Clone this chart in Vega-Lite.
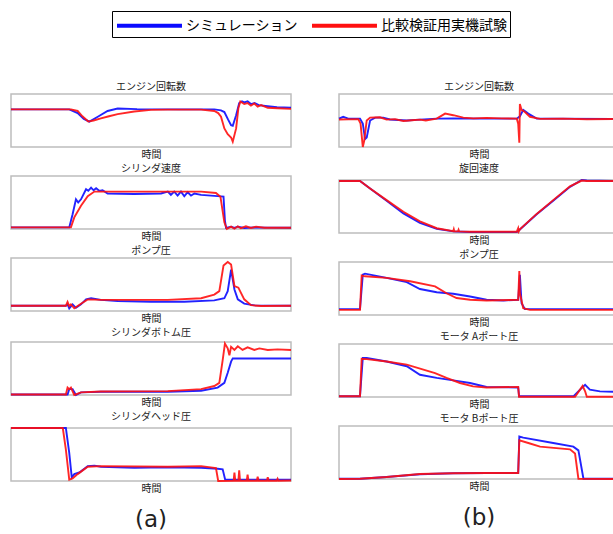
{
"$schema": "https://vega.github.io/schema/vega-lite/v6.json",
"padding": {"left": 6, "top": 10, "right": 0, "bottom": 0},
"config": {
  "font": "Noto Sans CJK JP",
  "view": {"stroke": "#bdbdbd", "strokeWidth": 1.5},
  "title": {"fontSize": 10, "fontWeight": "normal", "color": "#222222", "offset": 2, "font": "Noto Sans CJK JP"},
  "axisX": {"labels": false, "ticks": false, "domain": false, "grid": false, "titleFontSize": 10, "titleFontWeight": "normal", "titleColor": "#222222", "titlePadding": 2, "titleFont": "Noto Sans CJK JP"}
},
"datasets": {
"L1": [
{"s":"シミュレーション","t":0,"v":71},{"s":"シミュレーション","t":20.8,"v":71},{"s":"シミュレーション","t":23.8,"v":64},{"s":"シミュレーション","t":26,"v":53},{"s":"シミュレーション","t":28,"v":48},{"s":"シミュレーション","t":31,"v":57},{"s":"シミュレーション","t":34.5,"v":68},{"s":"シミュレーション","t":38.1,"v":72.6},{"s":"シミュレーション","t":45,"v":71.5},{"s":"シミュレーション","t":60,"v":71},{"s":"シミュレーション","t":72.6,"v":71},{"s":"シミュレーション","t":75,"v":69},{"s":"シミュレーション","t":76.2,"v":66},{"s":"シミュレーション","t":77.5,"v":52},{"s":"シミュレーション","t":78.6,"v":41},{"s":"シミュレーション","t":79.2,"v":40},{"s":"シミュレーション","t":80.4,"v":60},{"s":"シミュレーション","t":81.5,"v":83},{"s":"シミュレーション","t":82.5,"v":86},{"s":"シミュレーション","t":83.3,"v":84},{"s":"シミュレーション","t":84.5,"v":86},{"s":"シミュレーション","t":85.7,"v":81},{"s":"シミュレーション","t":87,"v":83},{"s":"シミュレーション","t":88.5,"v":79},{"s":"シミュレーション","t":91.7,"v":77},{"s":"シミュレーション","t":95,"v":75},{"s":"シミュレーション","t":100,"v":74},
{"s":"比較検証用実機試験","t":0,"v":71},{"s":"比較検証用実機試験","t":21.4,"v":71},{"s":"比較検証用実機試験","t":23.8,"v":68},{"s":"比較検証用実機試験","t":25.5,"v":58},{"s":"比較検証用実機試験","t":27.6,"v":48},{"s":"比較検証用実機試験","t":29.5,"v":50},{"s":"比較検証用実機試験","t":32.1,"v":54},{"s":"比較検証用実機試験","t":35,"v":58},{"s":"比較検証用実機試験","t":38.1,"v":62},{"s":"比較検証用実機試験","t":44,"v":67},{"s":"比較検証用実機試験","t":50,"v":70},{"s":"比較検証用実機試験","t":56,"v":70.5},{"s":"比較検証用実機試験","t":67.9,"v":70.5},{"s":"比較検証用実機試験","t":72.6,"v":68},{"s":"比較検証用実機試験","t":74,"v":64},{"s":"比較検証用実機試験","t":75,"v":57},{"s":"比較検証用実機試験","t":76.2,"v":35},{"s":"比較検証用実機試験","t":77.4,"v":24},{"s":"比較検証用実機試験","t":78.6,"v":18},{"s":"比較検証用実機試験","t":79.2,"v":10},{"s":"比較検証用実機試験","t":80.4,"v":35},{"s":"比較検証用実機試験","t":81.2,"v":73},{"s":"比較検証用実機試験","t":81.9,"v":86},{"s":"比較検証用実機試験","t":83.3,"v":81},{"s":"比較検証用実機試験","t":84.5,"v":83},{"s":"比較検証用実機試験","t":85.7,"v":78},{"s":"比較検証用実機試験","t":86.9,"v":82},{"s":"比較検証用実機試験","t":88.1,"v":76},{"s":"比較検証用実機試験","t":89.3,"v":79},{"s":"比較検証用実機試験","t":91.7,"v":74},{"s":"比較検証用実機試験","t":95.2,"v":73},{"s":"比較検証用実機試験","t":100,"v":72}
],
"L2": [
{"s":"シミュレーション","t":0,"v":3},{"s":"シミュレーション","t":20.8,"v":3},{"s":"シミュレーション","t":22,"v":28},{"s":"シミュレーション","t":23.2,"v":56},{"s":"シミュレーション","t":24,"v":50},{"s":"シミュレーション","t":25,"v":56},{"s":"シミュレーション","t":26.8,"v":75},{"s":"シミュレーション","t":27.6,"v":72},{"s":"シミュレーション","t":28.6,"v":78},{"s":"シミュレーション","t":29.5,"v":73},{"s":"シミュレーション","t":30.4,"v":77},{"s":"シミュレーション","t":31.5,"v":72},{"s":"シミュレーション","t":32.7,"v":73},{"s":"シミュレーション","t":34.5,"v":67},{"s":"シミュレーション","t":44,"v":66},{"s":"シミュレーション","t":53.6,"v":67},{"s":"シミュレーション","t":56,"v":70.6},{"s":"シミュレーション","t":57.1,"v":64.4},{"s":"シミュレーション","t":58.3,"v":70.6},{"s":"シミュレーション","t":59.5,"v":63.1},{"s":"シミュレーション","t":60.7,"v":70.6},{"s":"シミュレーション","t":61.9,"v":61.9},{"s":"シミュレーション","t":63.1,"v":69.4},{"s":"シミュレーション","t":64.3,"v":63.1},{"s":"シミュレーション","t":65.5,"v":66.9},{"s":"シミュレーション","t":67.9,"v":64.4},{"s":"シミュレーション","t":73.8,"v":62},{"s":"シミュレーション","t":75.9,"v":61},{"s":"シミュレーション","t":76.4,"v":16},{"s":"シミュレーション","t":76.8,"v":2},{"s":"シミュレーション","t":78.6,"v":4.4},{"s":"シミュレーション","t":79.8,"v":2},{"s":"シミュレーション","t":81,"v":4.4},{"s":"シミュレーション","t":83.3,"v":2},{"s":"シミュレーション","t":86.9,"v":3},{"s":"シミュレーション","t":91.7,"v":2.5},{"s":"シミュレーション","t":100,"v":2.5},
{"s":"比較検証用実機試験","t":0,"v":3},{"s":"比較検証用実機試験","t":21.4,"v":3},{"s":"比較検証用実機試験","t":22.6,"v":22},{"s":"比較検証用実機試験","t":25,"v":44},{"s":"比較検証用実機試験","t":27.4,"v":62},{"s":"比較検証用実機試験","t":29.8,"v":70.6},{"s":"比較検証用実機試験","t":32.1,"v":70.6},{"s":"比較検証用実機試験","t":44,"v":70.6},{"s":"比較検証用実機試験","t":56,"v":70.6},{"s":"比較検証用実機試験","t":67.9,"v":70.6},{"s":"比較検証用実機試験","t":73.2,"v":68},{"s":"比較検証用実機試験","t":74.8,"v":61},{"s":"比較検証用実機試験","t":76.2,"v":12.5},{"s":"比較検証用実機試験","t":77.1,"v":0},{"s":"比較検証用実機試験","t":78.6,"v":4.4},{"s":"比較検証用実機試験","t":79.8,"v":0.5},{"s":"比較検証用実機試験","t":81,"v":5},{"s":"比較検証用実機試験","t":82.1,"v":1.5},{"s":"比較検証用実機試験","t":83.9,"v":5},{"s":"比較検証用実機試験","t":85.7,"v":2},{"s":"比較検証用実機試験","t":87.5,"v":4.4},{"s":"比較検証用実機試験","t":90.5,"v":2.5},{"s":"比較検証用実機試験","t":100,"v":2.5}
],
"L3": [
{"s":"シミュレーション","t":0,"v":10},{"s":"シミュレーション","t":19.6,"v":10},{"s":"シミュレーション","t":20.2,"v":12.5},{"s":"シミュレーション","t":20.8,"v":5},{"s":"シミュレーション","t":22,"v":12.5},{"s":"シミュレーション","t":23.2,"v":6},{"s":"シミュレーション","t":25,"v":12.5},{"s":"シミュレーション","t":26.8,"v":22},{"s":"シミュレーション","t":28.6,"v":24},{"s":"シミュレーション","t":32.1,"v":21},{"s":"シミュレーション","t":38.1,"v":19},{"s":"シミュレーション","t":50,"v":17.5},{"s":"シミュレーション","t":61.9,"v":17.5},{"s":"シミュレーション","t":72.6,"v":20},{"s":"シミュレーション","t":76.2,"v":24},{"s":"シミュレーション","t":77.4,"v":37.5},{"s":"シミュレーション","t":78.6,"v":78},{"s":"シミュレーション","t":79.8,"v":40.6},{"s":"シミュレーション","t":81,"v":22},{"s":"シミュレーション","t":83.3,"v":14},{"s":"シミュレーション","t":86.9,"v":10.6},{"s":"シミュレーション","t":100,"v":10},
{"s":"比較検証用実機試験","t":0,"v":10},{"s":"比較検証用実機試験","t":19.6,"v":10},{"s":"比較検証用実機試験","t":20.2,"v":17},{"s":"比較検証用実機試験","t":20.8,"v":9.4},{"s":"比較検証用実機試験","t":21.4,"v":12.5},{"s":"比較検証用実機試験","t":22.6,"v":5},{"s":"比較検証用実機試験","t":25,"v":13.7},{"s":"比較検証用実機試験","t":27.4,"v":22},{"s":"比較検証用実機試験","t":32.1,"v":21},{"s":"比較検証用実機試験","t":44,"v":21},{"s":"比較検証用実機試験","t":56,"v":21},{"s":"比較検証用実機試験","t":67.9,"v":24},{"s":"比較検証用実機試験","t":72.6,"v":31},{"s":"比較検証用実機試験","t":74.4,"v":37.5},{"s":"比較検証用実機試験","t":75.9,"v":86},{"s":"比較検証用実機試験","t":77.4,"v":92.5},{"s":"比較検証用実機試験","t":78.6,"v":87.5},{"s":"比較検証用実機試験","t":79.8,"v":47},{"s":"比較検証用実機試験","t":81.2,"v":44},{"s":"比較検証用実機試験","t":83.3,"v":22},{"s":"比較検証用実機試験","t":85.7,"v":11},{"s":"比較検証用実機試験","t":89.3,"v":9.4},{"s":"比較検証用実機試験","t":100,"v":10}
],
"L4": [
{"s":"シミュレーション","t":0,"v":1},{"s":"シミュレーション","t":20.2,"v":1},{"s":"シミュレーション","t":20.8,"v":11},{"s":"シミュレーション","t":22,"v":11},{"s":"シミュレーション","t":23.2,"v":0},{"s":"シミュレーション","t":25,"v":5},{"s":"シミュレーション","t":32.1,"v":6},{"s":"シミュレーション","t":56,"v":6},{"s":"シミュレーション","t":67.9,"v":8},{"s":"シミュレーション","t":73.8,"v":14},{"s":"シミュレーション","t":76.2,"v":23},{"s":"シミュレーション","t":77.4,"v":42},{"s":"シミュレーション","t":78.6,"v":63},{"s":"シミュレーション","t":79.2,"v":69},{"s":"シミュレーション","t":100,"v":69},
{"s":"比較検証用実機試験","t":0,"v":1},{"s":"比較検証用実機試験","t":19.6,"v":1},{"s":"比較検証用実機試験","t":20.2,"v":14},{"s":"比較検証用実機試験","t":20.8,"v":11},{"s":"比較検証用実機試験","t":21.4,"v":14},{"s":"比較検証用実機試験","t":22.6,"v":0},{"s":"比較検証用実機試験","t":25,"v":5},{"s":"比較検証用実機試験","t":32.1,"v":6.7},{"s":"比較検証用実機試験","t":56,"v":7.4},{"s":"比較検証用実機試験","t":67.9,"v":11},{"s":"比較検証用実機試験","t":72.6,"v":17},{"s":"比較検証用実機試験","t":74.4,"v":23},{"s":"比較検証用実機試験","t":75.6,"v":66},{"s":"比較検証用実機試験","t":76.4,"v":97},{"s":"比較検証用実機試験","t":77.4,"v":88},{"s":"比較検証用実機試験","t":78,"v":75},{"s":"比較検証用実機試験","t":78.6,"v":91},{"s":"比較検証用実機試験","t":79.8,"v":85},{"s":"比較検証用実機試験","t":81,"v":92},{"s":"比較検証用実機試験","t":82.7,"v":85},{"s":"比較検証用実機試験","t":84.5,"v":90},{"s":"比較検証用実機試験","t":86.9,"v":85},{"s":"比較検証用実機試験","t":88.7,"v":88},{"s":"比較検証用実機試験","t":91.7,"v":85},{"s":"比較検証用実機試験","t":95.2,"v":86},{"s":"比較検証用実機試験","t":100,"v":85}
],
"L5": [
{"s":"シミュレーション","t":0,"v":100},{"s":"シミュレーション","t":19.6,"v":100},{"s":"シミュレーション","t":20.8,"v":53},{"s":"シミュレーション","t":21.7,"v":7},{"s":"シミュレーション","t":22.6,"v":13},{"s":"シミュレーション","t":24.4,"v":16},{"s":"シミュレーション","t":27.4,"v":28},{"s":"シミュレーション","t":29.8,"v":29},{"s":"シミュレーション","t":32.1,"v":27},{"s":"シミュレーション","t":44,"v":25},{"s":"シミュレーション","t":56,"v":26},{"s":"シミュレーション","t":67.9,"v":25},{"s":"シミュレーション","t":73.8,"v":23},{"s":"シミュレーション","t":75.6,"v":22},{"s":"シミュレーション","t":76.5,"v":2.5},{"s":"シミュレーション","t":100,"v":2.5},
{"s":"比較検証用実機試験","t":0,"v":100},{"s":"比較検証用実機試験","t":18.5,"v":100},{"s":"比較検証用実機試験","t":19.6,"v":59},{"s":"比較検証用実機試験","t":20.8,"v":2.5},{"s":"比較検証用実機試験","t":22,"v":5},{"s":"比較検証用実機試験","t":23.8,"v":13},{"s":"比較検証用実機試験","t":27.4,"v":27},{"s":"比較検証用実機試験","t":32.1,"v":28},{"s":"比較検証用実機試験","t":56,"v":27},{"s":"比較検証用実機試験","t":67.9,"v":28},{"s":"比較検証用実機試験","t":73.2,"v":24.5},{"s":"比較検証用実機試験","t":74,"v":0},{"s":"比較検証用実機試験","t":79.5,"v":0.5},{"s":"比較検証用実機試験","t":79.8,"v":16},{"s":"比較検証用実機試験","t":80.1,"v":0.5},{"s":"比較検証用実機試験","t":81.2,"v":0.5},{"s":"比較検証用実機試験","t":81.5,"v":20},{"s":"比較検証用実機試験","t":81.8,"v":0.5},{"s":"比較検証用実機試験","t":84.2,"v":0.5},{"s":"比較検証用実機試験","t":84.5,"v":12},{"s":"比較検証用実機試験","t":84.8,"v":0.5},{"s":"比較検証用実機試験","t":87.8,"v":0.5},{"s":"比較検証用実機試験","t":88.1,"v":8},{"s":"比較検証用実機試験","t":88.4,"v":0.5},{"s":"比較検証用実機試験","t":91.4,"v":0.5},{"s":"比較検証用実機試験","t":91.7,"v":7},{"s":"比較検証用実機試験","t":92,"v":0.5},{"s":"比較検証用実機試験","t":94.9,"v":0.5},{"s":"比較検証用実機試験","t":95.2,"v":4},{"s":"比較検証用実機試験","t":95.5,"v":0.5},{"s":"比較検証用実機試験","t":100,"v":1}
],
"R1": [
{"s":"シミュレーション","t":0,"v":53.5},{"s":"シミュレーション","t":1.5,"v":57},{"s":"シミュレーション","t":3.3,"v":53.5},{"s":"シミュレーション","t":7.5,"v":53.5},{"s":"シミュレーション","t":8.5,"v":44},{"s":"シミュレーション","t":9.3,"v":15},{"s":"シミュレーション","t":9.9,"v":18},{"s":"シミュレーション","t":11.1,"v":50},{"s":"シミュレーション","t":12.9,"v":55.5},{"s":"シミュレーション","t":15.8,"v":55.5},{"s":"シミュレーション","t":18.2,"v":52},{"s":"シミュレーション","t":24.2,"v":50},{"s":"シミュレーション","t":28.9,"v":51.6},{"s":"シミュレーション","t":34.9,"v":53.5},{"s":"シミュレーション","t":40.8,"v":54},{"s":"シミュレーション","t":52.7,"v":53.5},{"s":"シミュレーション","t":63.5,"v":53.5},{"s":"シミュレーション","t":64.6,"v":58},{"s":"シミュレーション","t":65.8,"v":70},{"s":"シミュレーション","t":67.6,"v":63},{"s":"シミュレーション","t":70.6,"v":53.5},{"s":"シミュレーション","t":76.5,"v":53.5},{"s":"シミュレーション","t":100,"v":53},
{"s":"比較検証用実機試験","t":0,"v":52},{"s":"比較検証用実機試験","t":6.9,"v":52.5},{"s":"比較検証用実機試験","t":7.7,"v":44},{"s":"比較検証用実機試験","t":8.5,"v":0},{"s":"比較検証用実機試験","t":9,"v":11.6},{"s":"比較検証用実機試験","t":9.9,"v":50},{"s":"比較検証用実機試験","t":11.1,"v":55.5},{"s":"比較検証用実機試験","t":14.6,"v":56},{"s":"比較検証用実機試験","t":17,"v":51.6},{"s":"比較検証用実機試験","t":20,"v":52.5},{"s":"比較検証用実機試験","t":23,"v":49},{"s":"比較検証用実機試験","t":26,"v":50.5},{"s":"比較検証用実機試験","t":28.9,"v":51.6},{"s":"比較検証用実機試験","t":31,"v":50},{"s":"比較検証用実機試験","t":34.9,"v":53.5},{"s":"比較検証用実機試験","t":37.9,"v":63},{"s":"比較検証用実機試験","t":40.8,"v":60},{"s":"比較検証用実機試験","t":44.4,"v":55.5},{"s":"比較検証用実機試験","t":48,"v":54},{"s":"比較検証用実機試験","t":52.7,"v":55},{"s":"比較検証用実機試験","t":58,"v":54},{"s":"比較検証用実機試験","t":63.5,"v":53.5},{"s":"比較検証用実機試験","t":64,"v":44},{"s":"比較検証用実機試験","t":64.4,"v":8},{"s":"比較検証用実機試験","t":64.6,"v":81},{"s":"比較検証用実機試験","t":65.2,"v":70},{"s":"比較検証用実機試験","t":66.4,"v":66},{"s":"比較検証用実機試験","t":68.2,"v":57},{"s":"比較検証用実機試験","t":71.8,"v":53},{"s":"比較検証用実機試験","t":80,"v":53.5},{"s":"比較検証用実機試験","t":88.5,"v":52.5},{"s":"比較検証用実機試験","t":100,"v":53}
],
"R2": [
{"s":"シミュレーション","t":0,"v":98},{"s":"シミュレーション","t":7.5,"v":98},{"s":"シミュレーション","t":11.1,"v":84},{"s":"シミュレーション","t":17,"v":61},{"s":"シミュレーション","t":23,"v":37},{"s":"シミュレーション","t":28.9,"v":19},{"s":"シミュレーション","t":34.9,"v":8},{"s":"シミュレーション","t":40.8,"v":3},{"s":"シミュレーション","t":46.8,"v":2},{"s":"シミュレーション","t":63.5,"v":2},{"s":"シミュレーション","t":64.6,"v":6.5},{"s":"シミュレーション","t":70.6,"v":35.5},{"s":"シミュレーション","t":76.5,"v":61},{"s":"シミュレーション","t":82.5,"v":87},{"s":"シミュレーション","t":86.7,"v":100},{"s":"シミュレーション","t":88.5,"v":99},{"s":"シミュレーション","t":100,"v":98},
{"s":"比較検証用実機試験","t":0,"v":98},{"s":"比較検証用実機試験","t":7.5,"v":98},{"s":"比較検証用実機試験","t":11.1,"v":84},{"s":"比較検証用実機試験","t":17,"v":62},{"s":"比較検証用実機試験","t":23,"v":40},{"s":"比較検証用実機試験","t":28.9,"v":22},{"s":"比較検証用実機試験","t":34.9,"v":9},{"s":"比較検証用実機試験","t":40.8,"v":3.5},{"s":"比較検証用実機試験","t":41,"v":7},{"s":"比較検証用実機試験","t":41.2,"v":3},{"s":"比較検証用実機試験","t":42.5,"v":3},{"s":"比較検証用実機試験","t":42.7,"v":6},{"s":"比較検証用実機試験","t":42.9,"v":3},{"s":"比較検証用実機試験","t":46.8,"v":2.5},{"s":"比較検証用実機試験","t":63.5,"v":2.5},{"s":"比較検証用実機試験","t":64,"v":9},{"s":"比較検証用実機試験","t":64.2,"v":3},{"s":"比較検証用実機試験","t":64.6,"v":7},{"s":"比較検証用実機試験","t":70.6,"v":36},{"s":"比較検証用実機試験","t":76.5,"v":62},{"s":"比較検証用実機試験","t":82.5,"v":88},{"s":"比較検証用実機試験","t":86.7,"v":99},{"s":"比較検証用実機試験","t":88.5,"v":98},{"s":"比較検証用実機試験","t":100,"v":98}
],
"R3": [
{"s":"シミュレーション","t":0,"v":11},{"s":"シミュレーション","t":7.5,"v":11},{"s":"シミュレーション","t":8.5,"v":76},{"s":"シミュレーション","t":9.3,"v":78},{"s":"シミュレーション","t":17,"v":70},{"s":"シミュレーション","t":24.2,"v":62},{"s":"シミュレーション","t":28.9,"v":49},{"s":"シミュレーション","t":34.9,"v":43},{"s":"シミュレーション","t":40.8,"v":40},{"s":"シミュレーション","t":46.8,"v":35},{"s":"シミュレーション","t":52.7,"v":28.7},{"s":"シミュレーション","t":58.7,"v":27.4},{"s":"シミュレーション","t":64,"v":28.7},{"s":"シミュレーション","t":64.6,"v":76},{"s":"シミュレーション","t":65.2,"v":22},{"s":"シミュレーション","t":66.4,"v":11},{"s":"シミュレーション","t":100,"v":11},
{"s":"比較検証用実機試験","t":0,"v":9.6},{"s":"比較検証用実機試験","t":7.5,"v":9.6},{"s":"比較検証用実機試験","t":8.1,"v":74.5},{"s":"比較検証用実機試験","t":9.3,"v":73},{"s":"比較検証用実機試験","t":17,"v":70},{"s":"比較検証用実機試験","t":25.4,"v":63.7},{"s":"比較検証用実機試験","t":34.3,"v":54},{"s":"比較検証用実機試験","t":38.4,"v":41},{"s":"比較検証用実機試験","t":42,"v":32},{"s":"比較検証用実機試験","t":46.8,"v":28.7},{"s":"比較検証用実機試験","t":52.7,"v":27.4},{"s":"比較検証用実機試験","t":64,"v":28.7},{"s":"比較検証用実機試験","t":64.4,"v":83},{"s":"比較検証用実機試験","t":64.6,"v":41},{"s":"比較検証用実機試験","t":65.8,"v":12.7},{"s":"比較検証用実機試験","t":68.2,"v":9.6},{"s":"比較検証用実機試験","t":100,"v":9.6}
],
"R4": [
{"s":"シミュレーション","t":0,"v":1.3},{"s":"シミュレーション","t":7.5,"v":1.3},{"s":"シミュレーション","t":8.5,"v":73.6},{"s":"シミュレーション","t":9.9,"v":73.6},{"s":"シミュレーション","t":17,"v":67},{"s":"シミュレーション","t":24.2,"v":58},{"s":"シミュレーション","t":28.9,"v":42},{"s":"シミュレーション","t":34.9,"v":36},{"s":"シミュレーション","t":40.8,"v":31.4},{"s":"シミュレーション","t":46.8,"v":26.4},{"s":"シミュレーション","t":52.7,"v":19},{"s":"シミュレーション","t":64,"v":18},{"s":"シミュレーション","t":64.3,"v":1.3},{"s":"シミュレーション","t":83.7,"v":1.3},{"s":"シミュレーション","t":86.1,"v":14},{"s":"シミュレーション","t":87.9,"v":23},{"s":"シミュレーション","t":89.6,"v":14},{"s":"シミュレーション","t":93.2,"v":10.7},{"s":"シミュレーション","t":100,"v":9.4},
{"s":"比較検証用実機試験","t":0,"v":1.3},{"s":"比較検証用実機試験","t":7.5,"v":1.3},{"s":"比較検証用実機試験","t":8.1,"v":72},{"s":"比較検証用実機試験","t":9.9,"v":71.5},{"s":"比較検証用実機試験","t":17,"v":67},{"s":"比較検証用実機試験","t":24.2,"v":61},{"s":"比較検証用実機試験","t":34.3,"v":45},{"s":"比較検証用実機試験","t":38.4,"v":36},{"s":"比較検証用実機試験","t":43.2,"v":26.4},{"s":"比較検証用実機試験","t":47.9,"v":20},{"s":"比較検証用実機試験","t":52.7,"v":18},{"s":"比較検証用実機試験","t":64,"v":19},{"s":"比較検証用実機試験","t":64.3,"v":0.6},{"s":"比較検証用実機試験","t":84.3,"v":0.6},{"s":"比較検証用実機試験","t":86.1,"v":14},{"s":"比較検証用実機試験","t":87,"v":21},{"s":"比較検証用実機試験","t":87.9,"v":10.7},{"s":"比較検証用実機試験","t":88.5,"v":0.6},{"s":"比較検証用実機試験","t":100,"v":0.6}
],
"R5": [
{"s":"シミュレーション","t":0,"v":0.6},{"s":"シミュレーション","t":7.5,"v":0.6},{"s":"シミュレーション","t":17,"v":3.8},{"s":"シミュレーション","t":28.9,"v":8.9},{"s":"シミュレーション","t":40.8,"v":10.8},{"s":"シミュレーション","t":52.7,"v":11.4},{"s":"シミュレーション","t":64,"v":11.4},{"s":"シミュレーション","t":64.4,"v":80},{"s":"シミュレーション","t":65.8,"v":78},{"s":"シミュレーション","t":76.5,"v":68},{"s":"シミュレーション","t":83.7,"v":61},{"s":"シミュレーション","t":85.5,"v":54},{"s":"シミュレーション","t":87.3,"v":0.6},{"s":"シミュレーション","t":100,"v":0.6},
{"s":"比較検証用実機試験","t":0,"v":0},{"s":"比較検証用実機試験","t":7.5,"v":0.6},{"s":"比較検証用実機試験","t":17,"v":3.8},{"s":"比較検証用実機試験","t":28.9,"v":9.5},{"s":"比較検証用実機試験","t":40.8,"v":10.8},{"s":"比較検証用実機試験","t":52.7,"v":11.4},{"s":"比較検証用実機試験","t":64,"v":11.4},{"s":"比較検証用実機試験","t":64.4,"v":73},{"s":"比較検証用実機試験","t":68.2,"v":67},{"s":"比較検証用実機試験","t":71.8,"v":61},{"s":"比較検証用実機試験","t":82.5,"v":56},{"s":"比較検証用実機試験","t":84.3,"v":48},{"s":"比較検証用実機試験","t":85.5,"v":0.6},{"s":"比較検証用実機試験","t":100,"v":0}
]
},
"resolve": {"scale": {"color": "shared"}, "legend": {"color": "shared"}},
"spacing": 38,
"hconcat": [
{"spacing": 3, "resolve": {"scale": {"color": "shared"}, "legend": {"color": "shared"}},
 "title": {"text": "(a)", "orient": "bottom", "anchor": "middle", "fontSize": 23, "font": "DejaVu Sans", "color": "#222222", "offset": 15},
 "vconcat": [
  {"title": "エンジン回転数", "width": 280, "height": 53, "data": {"name": "L1"}, "mark": {"type": "line", "strokeWidth": 1.9, "opacity": 0.9},
   "encoding": {"x": {"field": "t", "type": "quantitative", "scale": {"domain": [0, 100], "nice": false, "zero": false}, "axis": {"title": "時間"}},
    "y": {"field": "v", "type": "quantitative", "scale": {"domain": [0, 100], "nice": false}, "axis": null},
    "color": {"field": "s", "type": "nominal", "scale": {"domain": ["シミュレーション", "比較検証用実機試験"], "range": ["#0a0aff", "#ff1010"]},
     "legend": {"title": null, "orient": "none", "legendX": 101, "legendY": -83, "direction": "horizontal", "strokeColor": "#000000", "padding": 3, "symbolType": "M-1,0H5.84", "symbolSize": 361, "symbolStrokeWidth": 4, "symbolOpacity": 1, "labelFontSize": 14, "labelColor": "#000000", "labelOffset": 48, "columnPadding": 6, "labelFont": "Noto Sans CJK JP", "labelLimit": 300}}}},
  {"title": "シリンダ速度", "width": 280, "height": 53, "data": {"name": "L2"}, "mark": {"type": "line", "strokeWidth": 1.9, "opacity": 0.9},
   "encoding": {"x": {"field": "t", "type": "quantitative", "scale": {"domain": [0, 100], "nice": false, "zero": false}, "axis": {"title": "時間"}},
    "y": {"field": "v", "type": "quantitative", "scale": {"domain": [0, 100], "nice": false}, "axis": null},
    "color": {"field": "s", "type": "nominal", "scale": {"domain": ["シミュレーション", "比較検証用実機試験"], "range": ["#0a0aff", "#ff1010"]},
     "legend": {"title": null, "orient": "none", "legendX": 101, "legendY": -83, "direction": "horizontal", "strokeColor": "#000000", "padding": 3, "symbolType": "M-1,0H5.84", "symbolSize": 361, "symbolStrokeWidth": 4, "symbolOpacity": 1, "labelFontSize": 14, "labelColor": "#000000", "labelOffset": 48, "columnPadding": 6, "labelFont": "Noto Sans CJK JP", "labelLimit": 300}}}},
  {"title": "ポンプ圧", "width": 280, "height": 53, "data": {"name": "L3"}, "mark": {"type": "line", "strokeWidth": 1.9, "opacity": 0.9},
   "encoding": {"x": {"field": "t", "type": "quantitative", "scale": {"domain": [0, 100], "nice": false, "zero": false}, "axis": {"title": "時間"}},
    "y": {"field": "v", "type": "quantitative", "scale": {"domain": [0, 100], "nice": false}, "axis": null},
    "color": {"field": "s", "type": "nominal", "scale": {"domain": ["シミュレーション", "比較検証用実機試験"], "range": ["#0a0aff", "#ff1010"]},
     "legend": {"title": null, "orient": "none", "legendX": 101, "legendY": -83, "direction": "horizontal", "strokeColor": "#000000", "padding": 3, "symbolType": "M-1,0H5.84", "symbolSize": 361, "symbolStrokeWidth": 4, "symbolOpacity": 1, "labelFontSize": 14, "labelColor": "#000000", "labelOffset": 48, "columnPadding": 6, "labelFont": "Noto Sans CJK JP", "labelLimit": 300}}}},
  {"title": "シリンダボトム圧", "width": 280, "height": 53, "data": {"name": "L4"}, "mark": {"type": "line", "strokeWidth": 1.9, "opacity": 0.9},
   "encoding": {"x": {"field": "t", "type": "quantitative", "scale": {"domain": [0, 100], "nice": false, "zero": false}, "axis": {"title": "時間"}},
    "y": {"field": "v", "type": "quantitative", "scale": {"domain": [0, 100], "nice": false}, "axis": null},
    "color": {"field": "s", "type": "nominal", "scale": {"domain": ["シミュレーション", "比較検証用実機試験"], "range": ["#0a0aff", "#ff1010"]},
     "legend": {"title": null, "orient": "none", "legendX": 101, "legendY": -83, "direction": "horizontal", "strokeColor": "#000000", "padding": 3, "symbolType": "M-1,0H5.84", "symbolSize": 361, "symbolStrokeWidth": 4, "symbolOpacity": 1, "labelFontSize": 14, "labelColor": "#000000", "labelOffset": 48, "columnPadding": 6, "labelFont": "Noto Sans CJK JP", "labelLimit": 300}}}},
  {"title": "シリンダヘッド圧", "width": 280, "height": 53, "data": {"name": "L5"}, "mark": {"type": "line", "strokeWidth": 1.9, "opacity": 0.9},
   "encoding": {"x": {"field": "t", "type": "quantitative", "scale": {"domain": [0, 100], "nice": false, "zero": false}, "axis": {"title": "時間"}},
    "y": {"field": "v", "type": "quantitative", "scale": {"domain": [0, 100], "nice": false}, "axis": null},
    "color": {"field": "s", "type": "nominal", "scale": {"domain": ["シミュレーション", "比較検証用実機試験"], "range": ["#0a0aff", "#ff1010"]},
     "legend": {"title": null, "orient": "none", "legendX": 101, "legendY": -83, "direction": "horizontal", "strokeColor": "#000000", "padding": 3, "symbolType": "M-1,0H5.84", "symbolSize": 361, "symbolStrokeWidth": 4, "symbolOpacity": 1, "labelFontSize": 14, "labelColor": "#000000", "labelOffset": 48, "columnPadding": 6, "labelFont": "Noto Sans CJK JP", "labelLimit": 300}}}}
 ]},
{"spacing": 3, "resolve": {"scale": {"color": "shared"}, "legend": {"color": "shared"}},
 "title": {"text": "(b)", "orient": "bottom", "anchor": "middle", "fontSize": 23, "font": "DejaVu Sans", "color": "#222222", "offset": 15},
 "vconcat": [
  {"title": "エンジン回転数", "width": 280, "height": 53, "data": {"name": "R1"}, "mark": {"type": "line", "strokeWidth": 1.9, "opacity": 0.9},
   "encoding": {"x": {"field": "t", "type": "quantitative", "scale": {"domain": [0, 100], "nice": false, "zero": false}, "axis": {"title": "時間"}},
    "y": {"field": "v", "type": "quantitative", "scale": {"domain": [0, 100], "nice": false}, "axis": null},
    "color": {"field": "s", "type": "nominal", "scale": {"domain": ["シミュレーション", "比較検証用実機試験"], "range": ["#0a0aff", "#ff1010"]},
     "legend": {"title": null, "orient": "none", "legendX": 101, "legendY": -83, "direction": "horizontal", "strokeColor": "#000000", "padding": 3, "symbolType": "M-1,0H5.84", "symbolSize": 361, "symbolStrokeWidth": 4, "symbolOpacity": 1, "labelFontSize": 14, "labelColor": "#000000", "labelOffset": 48, "columnPadding": 6, "labelFont": "Noto Sans CJK JP", "labelLimit": 300}}}},
  {"title": "旋回速度", "width": 280, "height": 53, "data": {"name": "R2"}, "mark": {"type": "line", "strokeWidth": 1.9, "opacity": 0.9},
   "encoding": {"x": {"field": "t", "type": "quantitative", "scale": {"domain": [0, 100], "nice": false, "zero": false}, "axis": {"title": "時間"}},
    "y": {"field": "v", "type": "quantitative", "scale": {"domain": [0, 100], "nice": false}, "axis": null},
    "color": {"field": "s", "type": "nominal", "scale": {"domain": ["シミュレーション", "比較検証用実機試験"], "range": ["#0a0aff", "#ff1010"]},
     "legend": {"title": null, "orient": "none", "legendX": 101, "legendY": -83, "direction": "horizontal", "strokeColor": "#000000", "padding": 3, "symbolType": "M-1,0H5.84", "symbolSize": 361, "symbolStrokeWidth": 4, "symbolOpacity": 1, "labelFontSize": 14, "labelColor": "#000000", "labelOffset": 48, "columnPadding": 6, "labelFont": "Noto Sans CJK JP", "labelLimit": 300}}}},
  {"title": "ポンプ圧", "width": 280, "height": 53, "data": {"name": "R3"}, "mark": {"type": "line", "strokeWidth": 1.9, "opacity": 0.9},
   "encoding": {"x": {"field": "t", "type": "quantitative", "scale": {"domain": [0, 100], "nice": false, "zero": false}, "axis": {"title": "時間"}},
    "y": {"field": "v", "type": "quantitative", "scale": {"domain": [0, 100], "nice": false}, "axis": null},
    "color": {"field": "s", "type": "nominal", "scale": {"domain": ["シミュレーション", "比較検証用実機試験"], "range": ["#0a0aff", "#ff1010"]},
     "legend": {"title": null, "orient": "none", "legendX": 101, "legendY": -83, "direction": "horizontal", "strokeColor": "#000000", "padding": 3, "symbolType": "M-1,0H5.84", "symbolSize": 361, "symbolStrokeWidth": 4, "symbolOpacity": 1, "labelFontSize": 14, "labelColor": "#000000", "labelOffset": 48, "columnPadding": 6, "labelFont": "Noto Sans CJK JP", "labelLimit": 300}}}},
  {"title": "モータ Aポート圧", "width": 280, "height": 53, "data": {"name": "R4"}, "mark": {"type": "line", "strokeWidth": 1.9, "opacity": 0.9},
   "encoding": {"x": {"field": "t", "type": "quantitative", "scale": {"domain": [0, 100], "nice": false, "zero": false}, "axis": {"title": "時間"}},
    "y": {"field": "v", "type": "quantitative", "scale": {"domain": [0, 100], "nice": false}, "axis": null},
    "color": {"field": "s", "type": "nominal", "scale": {"domain": ["シミュレーション", "比較検証用実機試験"], "range": ["#0a0aff", "#ff1010"]},
     "legend": {"title": null, "orient": "none", "legendX": 101, "legendY": -83, "direction": "horizontal", "strokeColor": "#000000", "padding": 3, "symbolType": "M-1,0H5.84", "symbolSize": 361, "symbolStrokeWidth": 4, "symbolOpacity": 1, "labelFontSize": 14, "labelColor": "#000000", "labelOffset": 48, "columnPadding": 6, "labelFont": "Noto Sans CJK JP", "labelLimit": 300}}}},
  {"title": "モータ Bポート圧", "width": 280, "height": 53, "data": {"name": "R5"}, "mark": {"type": "line", "strokeWidth": 1.9, "opacity": 0.9},
   "encoding": {"x": {"field": "t", "type": "quantitative", "scale": {"domain": [0, 100], "nice": false, "zero": false}, "axis": {"title": "時間"}},
    "y": {"field": "v", "type": "quantitative", "scale": {"domain": [0, 100], "nice": false}, "axis": null},
    "color": {"field": "s", "type": "nominal", "scale": {"domain": ["シミュレーション", "比較検証用実機試験"], "range": ["#0a0aff", "#ff1010"]},
     "legend": {"title": null, "orient": "none", "legendX": 101, "legendY": -83, "direction": "horizontal", "strokeColor": "#000000", "padding": 3, "symbolType": "M-1,0H5.84", "symbolSize": 361, "symbolStrokeWidth": 4, "symbolOpacity": 1, "labelFontSize": 14, "labelColor": "#000000", "labelOffset": 48, "columnPadding": 6, "labelFont": "Noto Sans CJK JP", "labelLimit": 300}}}}
 ]}
]
}
